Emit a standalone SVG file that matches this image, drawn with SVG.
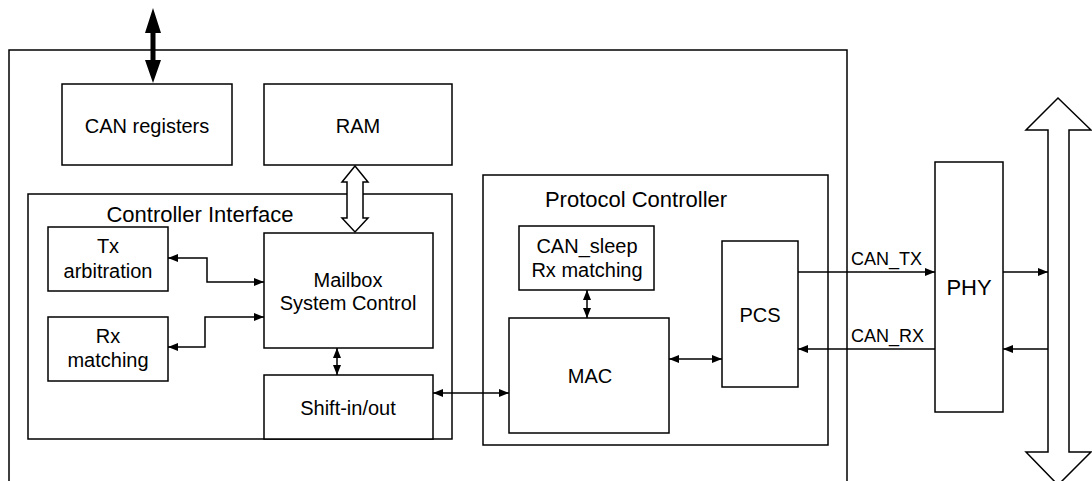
<svg xmlns="http://www.w3.org/2000/svg" width="1092" height="481" viewBox="0 0 1092 481">
<style>
.box{fill:#fff;stroke:#000;stroke-width:1.5}
.cont{fill:none;stroke:#000;stroke-width:1.5}
.t{font-family:"Liberation Sans",Arial,sans-serif;font-size:20px;fill:#000;text-anchor:middle}
.tt{font-size:22px}
.lbl{font-family:"Liberation Sans",Arial,sans-serif;font-size:18px;fill:#000}
.ln{fill:none;stroke:#000;stroke-width:1.5}
.hollow{fill:#fff;stroke:#000;stroke-width:1.5}
</style>
<defs>
<marker id="ah" viewBox="0 0 10 8" refX="10" refY="4" markerWidth="10" markerHeight="8" markerUnits="userSpaceOnUse" orient="auto-start-reverse">
<path d="M0,0 L10,4 L0,8 Z" fill="#000"/>
</marker>
</defs>
<rect width="1092" height="481" fill="#fff"/>
<g id="chip">
<path class="cont" d="M9,490 V50 H847 V490"/>
</g>
<g id="controller-interface">
<rect class="box" x="28" y="194" width="424" height="245"/>
<text class="t tt" x="200" y="222">Controller Interface</text>
</g>
<g id="protocol-controller">
<rect class="box" x="483" y="175" width="345" height="270"/>
<text class="t tt" x="636" y="207">Protocol Controller</text>
</g>
<g id="can-registers">
<rect class="box" x="62" y="84" width="170" height="81"/>
<text class="t" x="147" y="133">CAN registers</text>
</g>
<g id="ram">
<rect class="box" x="264" y="84" width="188" height="81"/>
<text class="t" x="358" y="133">RAM</text>
</g>
<g id="tx-arbitration">
<rect class="box" x="48" y="227" width="120" height="64"/>
<text class="t" x="108" y="253">Tx</text>
<text class="t" x="108" y="278">arbitration</text>
</g>
<g id="rx-matching">
<rect class="box" x="48" y="317" width="120" height="64"/>
<text class="t" x="108" y="343">Rx</text>
<text class="t" x="108" y="367">matching</text>
</g>
<g id="mailbox">
<rect class="box" x="264" y="233" width="169" height="115"/>
<text class="t" x="348" y="287">Mailbox</text>
<text class="t" x="348" y="310">System Control</text>
</g>
<g id="shift">
<rect class="box" x="264" y="375" width="169" height="64"/>
<text class="t" x="348" y="415">Shift-in/out</text>
</g>
<g id="can-sleep">
<rect class="box" x="519" y="226" width="135" height="64"/>
<text class="t" x="587" y="253">CAN_sleep</text>
<text class="t" x="587" y="277">Rx matching</text>
</g>
<g id="mac">
<rect class="box" x="509" y="318" width="160" height="115"/>
<text class="t" x="590" y="383">MAC</text>
</g>
<g id="pcs">
<rect class="box" x="722" y="241" width="76" height="146"/>
<text class="t" x="760" y="322">PCS</text>
</g>
<g id="phy">
<rect class="box" x="935" y="162" width="68" height="250"/>
<text class="t tt" x="969" y="295">PHY</text>
</g>
<g id="connectors">
<path d="M153,8 L161,33 L155.5,33 L155.5,60 L161,60 L153,83 L145,60 L150.5,60 L150.5,33 L145,33 Z" fill="#000"/>
<path class="hollow" d="M355,166 L368,182 L363,182 L363,218 L368,218 L355,232 L342,218 L347,218 L347,182 L342,182 Z"/>
<path class="hollow" d="M1058,98 L1091,130 L1069,130 L1069,452 L1091,452 L1058,485 L1026,452 L1048,452 L1048,130 L1026,130 Z"/>
<path class="ln" d="M168,258 H207 V282 H264" marker-start="url(#ah)" marker-end="url(#ah)"/>
<path class="ln" d="M168,347 H205 V317 H264" marker-start="url(#ah)" marker-end="url(#ah)"/>
<path class="ln" d="M337,348 V375" marker-start="url(#ah)" marker-end="url(#ah)"/>
<path class="ln" d="M433,393 H509" marker-start="url(#ah)" marker-end="url(#ah)"/>
<path class="ln" d="M587,290 V318" marker-start="url(#ah)" marker-end="url(#ah)"/>
<path class="ln" d="M669,359 H722" marker-start="url(#ah)" marker-end="url(#ah)"/>
<path class="ln" d="M798,272 H935" marker-end="url(#ah)"/>
<path class="ln" d="M935,349 H798" marker-end="url(#ah)"/>
<path class="ln" d="M1003,272 H1048" marker-end="url(#ah)"/>
<path class="ln" d="M1048,349 H1003" marker-end="url(#ah)"/>
<text class="lbl" x="851" y="265">CAN_TX</text>
<text class="lbl" x="851" y="342">CAN_RX</text>
</g>
</svg>
